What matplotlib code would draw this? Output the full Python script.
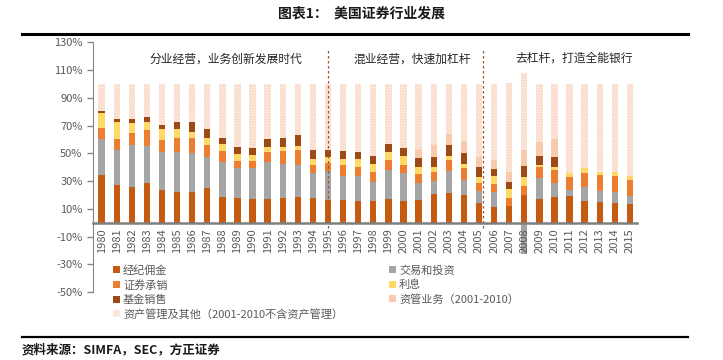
import matplotlib
matplotlib.use("Agg")
import matplotlib.pyplot as plt
import numpy as np
from matplotlib.patches import Patch
from matplotlib.lines import Line2D

plt.rcParams['font.family'] = ['Noto Sans CJK SC', 'DejaVu Sans']
plt.rcParams['hatch.linewidth'] = 0.8

years = [str(y) for y in range(1980, 2016)]
brokerage = [34.7, 27.4, 25.7, 28.4, 23.5, 22.3, 21.8, 25.2, 18.4, 17.9, 16.7, 16.7, 17.9, 18.5,
             17.9, 16.2, 16.2, 15.8, 15.8, 17.2, 15.8, 16.2, 20.8, 21.1, 20.1, 14.5, 11.4, 11.9,
             20.1, 17.2, 18.4, 19.4, 15.8, 15.0, 14.1, 13.6]
trading = [25.4, 25.2, 30.1, 26.9, 27.4, 28.9, 28.1, 22.1, 25.2, 21.4, 22.6, 26.9, 24.5, 23.4,
           17.7, 20.9, 17.7, 17.7, 13.8, 21.1, 19.8, 12.4, 9.3, 16.2, 10.9, 8.5, 10.9, 0.0,
           -22.5, 14.8, 10.0, 4.4, 9.9, 8.0, 7.7, 5.8]
underwriting = [7.8, 7.5, 8.9, 11.4, 8.5, 10.1, 10.9, 8.5, 8.3, 5.3, 5.3, 7.6, 9.0, 10.2,
                6.3, 5.8, 7.8, 6.7, 7.2, 6.8, 5.6, 6.6, 6.7, 7.8, 8.3, 5.8, 5.6, 5.6,
                6.6, 8.0, 9.7, 9.4, 10.4, 11.7, 12.1, 11.1]
interest = [11.4, 12.4, 7.3, 5.8, 7.8, 5.9, 4.4, 5.5, 4.8, 4.9, 4.1, 3.6, 3.4, 3.1,
            3.7, 4.4, 3.9, 5.4, 5.4, 5.6, 7.0, 5.0, 3.4, 2.9, 3.1, 3.9, 5.6, 6.5,
            6.5, 1.5, 1.7, 2.4, 3.2, 2.1, 2.9, 3.4]
fund_sales = [1.4, 1.9, 2.4, 3.9, 3.1, 5.3, 7.3, 6.1, 4.1, 4.8, 4.9, 5.3, 6.5, 8.0,
              7.0, 4.8, 6.0, 5.6, 6.0, 6.0, 5.9, 6.1, 7.1, 7.8, 7.8, 7.1, 5.3, 5.6,
              7.3, 6.5, 7.5, 0, 0, 0, 0, 0]
asset_mgmt = [0] * 21 + [6.5, 8.5, 8.2, 9.0, 7.2, 6.5, 7.2, 12.1, 9.9, 13.1, 0, 0, 0, 0, 0]
other = [19.3, 25.6, 25.6, 23.6, 29.7, 27.5, 27.5, 32.6, 39.2, 45.7, 46.4, 39.9, 38.7, 36.8,
         47.4, 47.9, 48.4, 48.8, 51.8, 43.3, 45.9, 47.2, 44.2, 36.0, 40.8, 53.0, 54.7, 64.2,
         55.3, 42.1, 39.6, 64.4, 60.7, 63.2, 63.2, 66.1]

series = [
    ("经纪佣金", brokerage, "#C55A11"),
    ("交易和投资", trading, "#A5A5A5"),
    ("证券承销", underwriting, "#ED7D31"),
    ("利息", interest, "#FFD966"),
    ("基金销售", fund_sales, "#9E4A17"),
    ("资管业务（2001-2010）", asset_mgmt, "#F8CBAD"),
    ("资产管理及其他（2001-2010不含资产管理）", other, "#FCE7DA"),
]

era_labels = ["分业经营，业务创新发展时代", "混业经营，快速加杠杆", "去杠杆，打造全能银行"]

fig = plt.figure(figsize=(7.23, 3.6), dpi=100)
ax = fig.add_axes([93 / 723, 1 - 292 / 360, (637 - 93) / 723, (292 - 42.3) / 360])

for s in ['top', 'right']:
    ax.spines[s].set_visible(False)
ax.spines['left'].set_color("#868686")
ax.spines['bottom'].set_position(('data', 0))
ax.spines['bottom'].set_color("#7F7F7F")
ax.spines['bottom'].set_linewidth(1.8)
ax.spines['bottom'].set_zorder(4)

x = np.arange(len(years))
pos_bottom = np.zeros(len(years))
handles = {}
for name, vals, col in series:
    v = np.array(vals, dtype=float)
    bottoms = np.where(v >= 0, pos_bottom, 0)
    if name.startswith("资产管理及其他"):
        ax.bar(x, v, 0.42, bottom=bottoms, color=col, edgecolor="#F6D2BE",
               hatch="......", linewidth=0, zorder=1)
    else:
        ax.bar(x, v, 0.42, bottom=bottoms, color=col, linewidth=0, zorder=1)
    handles[name] = Patch(facecolor=col, edgecolor='none')
    pos_bottom = pos_bottom + np.clip(v, 0, None)

ax.set_xlim(-0.57, 35.47)
ax.set_ylim(-50, 130)
ax.set_yticks(np.arange(-50, 131, 20))
ax.set_yticklabels([f"{t}%" for t in range(-50, 131, 20)], fontsize=8, color="#595959")
ax.set_xticks(x)
ax.set_xticklabels(years, rotation=90, fontsize=8, color="#595959")
ax.tick_params(axis='x', length=0, pad=4)
ax.tick_params(axis='y', length=4, color="#868686", width=1, direction='out')

for xv in [15, 25.25]:
    ax.plot([xv, xv], [-4, 126], color="#A0522D", linestyle=(0, (2, 2)), linewidth=0.9, zorder=4)

ax.text(8.2, 117.6, era_labels[0], ha='center', va='center', fontsize=8.5, color="#262626")
ax.text(20.6, 118, era_labels[1], ha='center', va='center', fontsize=8.5, color="#262626")
ax.text(31.3, 118.5, era_labels[2], ha='center', va='center', fontsize=8.5, color="#262626")

col1 = ["经纪佣金", "证券承销", "基金销售", "资产管理及其他（2001-2010不含资产管理）"]
col2 = ["交易和投资", "利息", "资管业务（2001-2010）"]
kw = dict(frameon=False, fontsize=8, labelcolor="#595959", handlelength=0.6, handleheight=0.6,
          handletextpad=0.3, labelspacing=0.35, borderpad=0, borderaxespad=0, loc='upper left')
fig.legend([handles[n] for n in col1], col1, bbox_to_anchor=(113 / 723, 1 - 265 / 360), **kw)
fig.legend([handles[n] for n in col2], col2, bbox_to_anchor=(389 / 723, 1 - 265 / 360), **kw)

fig.text(0.5, 1 - 14 / 360, "图表1：  美国证券行业发展", ha='center', va='center',
         fontsize=10, fontweight='bold', color="#1a1a1a")
fig.add_artist(Line2D([22 / 723, 688 / 723], [1 - 33.5 / 360, 1 - 33.5 / 360], color='black', linewidth=2.2))
fig.add_artist(Line2D([22 / 723, 688 / 723], [1 - 337 / 360, 1 - 337 / 360], color='black', linewidth=1.6))
fig.text(22 / 723, 1 - 350 / 360, "资料来源：SIMFA，SEC，方正证券", ha='left', va='center',
         fontsize=9, fontstyle='italic', fontweight='bold', color="#1a1a1a")

fig.savefig("out.png", dpi=100)
